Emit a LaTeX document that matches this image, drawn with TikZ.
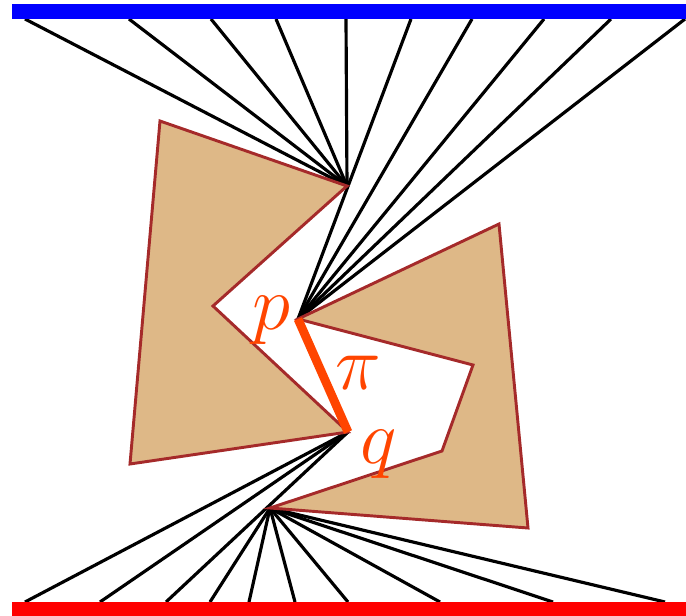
\documentclass[tikz,border=0pt]{standalone}
\usepackage{amsmath}
\usepackage{graphicx}
\usepackage{tikz}
\usetikzlibrary{positioning}

\definecolor{obstfill}{RGB}{222,184,135}
\definecolor{obstedge}{RGB}{165,42,42}
\definecolor{pathcol}{RGB}{255,69,0}

\newcommand{\biglabel}[1]{\scalebox{2.65}{\Huge$#1$}}

\tikzset{
    visline/.style={line width=2.7pt, black},
    obstacle/.style={fill=obstfill, draw=obstedge, line width=2.5pt, line join=miter},
    ptlabel/.style={text=pathcol, inner sep=0pt}
}

\begin{document}
\begin{tikzpicture}[x=0.03cm, y=-0.03cm]
    \useasboundingbox (0,0) rectangle (686,616);

    % Points
    \coordinate (A) at (347,186); % reflex vertex, left obstacle
    \coordinate (p) at (298,319);
    \coordinate (q) at (348,432);
    \coordinate (B) at (270,508); % reflex vertex, right obstacle

    % Lines to the top edge
    \foreach \x in {25,129,211,276,346}{
        \coordinate (top\x) at (\x,19);
        \draw[visline] (A) -- (top\x);
    }
    \foreach \x in {411,472,544,611,685}{
        \coordinate (top\x) at (\x,19);
        \draw[visline] (p) -- (top\x);
    }

    % Lines to the bottom edge
    \foreach \x in {25,100,166}{
        \coordinate (bot\x) at (\x,602);
        \draw[visline] (q) -- (bot\x);
    }
    \foreach \x in {210,249,295,348,440,553,665}{
        \coordinate (bot\x) at (\x,602);
        \draw[visline] (B) -- (bot\x);
    }

    % Obstacles
    \draw[obstacle] (160,121) -- (A) -- (213,306) -- (q) -- (130,464) -- cycle;
    \draw[obstacle] (499,224) -- (528,528) -- (B) -- (442,451) -- (473,365) -- (p) -- cycle;

    % Top and bottom edges
    \fill[blue] (12,4) rectangle (686,19);
    \fill[red] (12,602) rectangle (686,616);

    % Path pi
    \draw[pathcol, line width=7.5pt] (p) -- (q);
    \node[ptlabel] (lp) at (271,320) {\biglabel{p}};
    \node[ptlabel] (lpi) at (358,373) {\biglabel{\pi}};
    \node[ptlabel] (lq) at (379,454) {\biglabel{q}};
\end{tikzpicture}
\end{document}
